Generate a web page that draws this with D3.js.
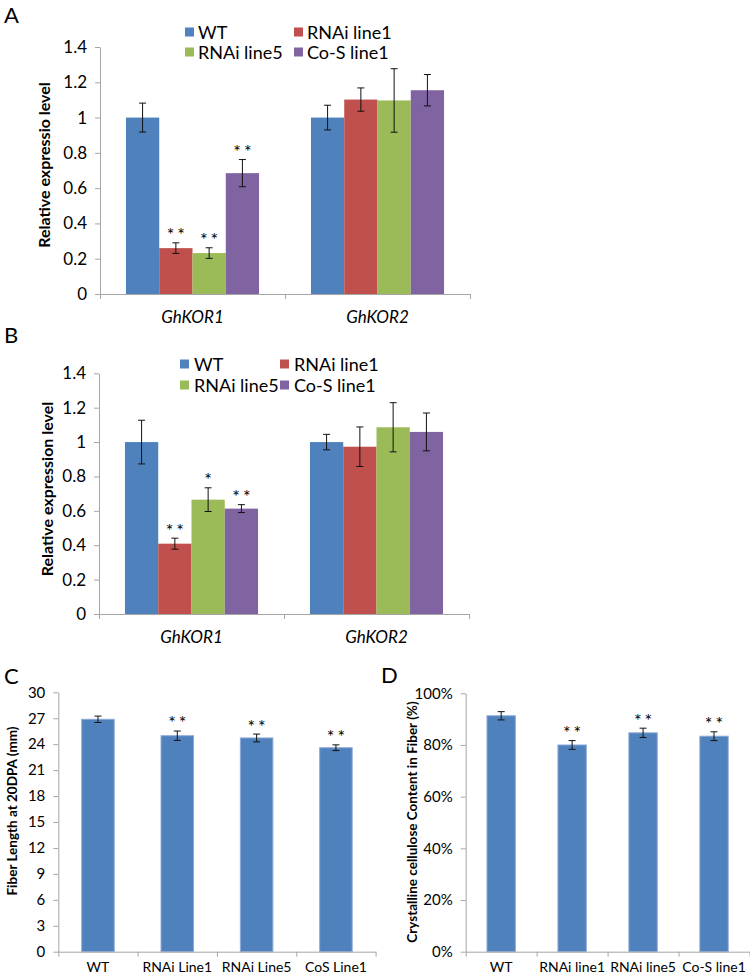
<!DOCTYPE html>
<html><head><meta charset="utf-8">
<script src="https://cdn.jsdelivr.net/npm/d3@7"></script>
<style>
html,body{margin:0;padding:0;background:#fff;}
svg{display:block;}
text{font-family:Lato,"Open Sans",sans-serif;fill:#000;}
</style></head>
<body>
<svg id="chart" width="750" height="978"></svg>
<script>
// ---------- DATA ----------
const groups = ["GhKOR1", "GhKOR2"];
const seriesNames = ["WT", "RNAi line1", "RNAi line5", "Co-S line1"];
const seriesColors = ["#4F81BD", "#C0504D", "#9BBB59", "#8064A2"];

const aValues = [[1.00, 0.26, 0.232, 0.685], [1.00, 1.102, 1.097, 1.155]];
const aErrors = [[0.082, 0.030, 0.030, 0.077], [0.070, 0.066, 0.180, 0.089]];
const aStars  = [["", "**", "**", "**"], ["", "", "", ""]];

const bValues = [[1.00, 0.409, 0.665, 0.613], [1.00, 0.973, 1.086, 1.059]];
const bErrors = [[0.127, 0.032, 0.069, 0.023], [0.045, 0.115, 0.143, 0.110]];
const bStars  = [["", "**", "*", "**"], ["", "", "", ""]];

const abTicks = [0, 0.2, 0.4, 0.6, 0.8, 1.0, 1.2, 1.4];
const abTickLabels = ["0", "0.2", "0.4", "0.6", "0.8", "1", "1.2", "1.4"];

const cCategories = ["WT", "RNAi Line1", "RNAi Line5", "CoS Line1"];
const cValues = [26.88, 24.98, 24.72, 23.59];
const cErrors = [0.37, 0.54, 0.45, 0.33];
const cStars  = ["", "**", "**", "**"];
const cTicks = [0, 3, 6, 9, 12, 15, 18, 21, 24, 27, 30];
const cTickLabels = ["0", "3", "6", "9", "12", "15", "18", "21", "24", "27", "30"];

const dCategories = ["WT", "RNAi line1", "RNAi line5", "Co-S line1"];
const dValues = [0.913, 0.800, 0.847, 0.834];
const dErrors = [0.016, 0.017, 0.018, 0.017];
const dStars  = ["", "**", "**", "**"];
const dTicks = [0, 0.2, 0.4, 0.6, 0.8, 1.0];
const dTickLabels = ["0%", "20%", "40%", "60%", "80%", "100%"];

// ---------- DRAWING ----------
const svg = d3.select("#chart");
const AXIS = "#a6a6a6";

function styleAxis(g){
  g.selectAll("path.domain").attr("stroke", AXIS);
  g.selectAll(".tick line").attr("stroke", AXIS);
}

function yAxis(y, x0, ticks, labels, fs){
  const g = svg.append("g").attr("transform", `translate(${x0},0)`)
    .call(d3.axisLeft(y).tickValues(ticks).tickFormat((d,i)=>labels[i])
      .tickSize(5).tickSizeOuter(0).tickPadding(8));
  g.selectAll(".tick text").attr("font-size", fs).attr("font-family", "Lato, sans-serif").attr("fill", "#000");
  styleAxis(g);
}

function xAxis(n, x0, x1, yPos){
  const xb = d3.scaleLinear().domain([0, n]).range([x0, x1]);
  const g = svg.append("g").attr("transform", `translate(0,${yPos})`)
    .call(d3.axisBottom(xb).tickValues(d3.range(n + 1)).tickFormat("").tickSize(5).tickSizeOuter(0));
  styleAxis(g);
}

function errBar(g, cx, yTop, yBot, cap){
  g.append("line").attr("x1", cx).attr("x2", cx).attr("y1", yTop).attr("y2", yBot).attr("stroke", "#111").attr("stroke-width", 1);
  g.append("line").attr("x1", cx - cap/2).attr("x2", cx + cap/2).attr("y1", yTop).attr("y2", yTop).attr("stroke", "#111");
  g.append("line").attr("x1", cx - cap/2).attr("x2", cx + cap/2).attr("y1", yBot).attr("y2", yBot).attr("stroke", "#111");
}

function star(g, cx, yTop, s){
  if (!s) return;
  const fs = 18;
  g.append("text").attr("x", cx + 1.5).attr("y", yTop - 12 + fs*0.58).attr("text-anchor", "middle")
    .attr("font-family", "'DejaVu Sans', sans-serif").attr("letter-spacing", "3px")
    .attr("font-size", fs).text(s);
}

function panelLabel(txt, x, y){
  svg.append("text").attr("x", x).attr("y", y).attr("font-size", 22).attr("font-family", "Lato, sans-serif").text(txt);
}

function yTitle(txt, cx, cy, fs){
  svg.append("text").attr("transform", `translate(${cx},${cy}) rotate(-90)`)
    .attr("text-anchor", "middle").attr("dominant-baseline", "central")
    .attr("font-weight", "bold").attr("font-size", fs).text(txt);
}

function groupedPanel(cfg){
  const y = d3.scaleLinear().domain([0, 1.4]).range([cfg.y0, cfg.y1]);
  const x = d3.scaleBand().domain(groups).range([cfg.x0, cfg.x1]).paddingInner(0).paddingOuter(0);
  const xs = d3.scaleBand().domain(seriesNames).range([0, x.bandwidth()]).paddingInner(0).paddingOuter(0.78);
  const g = svg.append("g");
  groups.forEach((grp, gi) => {
    seriesNames.forEach((s, si) => {
      const v = cfg.values[gi][si], e = cfg.errors[gi][si];
      const bx = x(grp) + xs(s);
      const c = seriesColors[si];
      g.append("rect").attr("x", bx).attr("y", y(v)).attr("width", xs.bandwidth()).attr("height", y(0) - y(v))
        .attr("fill", c);
      const cx = bx + xs.bandwidth()/2;
      errBar(g, cx, y(v + e), y(v - e), 7);
      star(g, cx, y(v + e), cfg.stars[gi][si]);
    });
    svg.append("text").attr("x", x(grp) + x.bandwidth()/2).attr("y", cfg.y0 + 29)
      .attr("text-anchor", "middle").attr("font-style", "italic").attr("font-size", 17).text(grp);
  });
  yAxis(y, cfg.x0, abTicks, abTickLabels, 17);
  xAxis(groups.length, cfg.x0, cfg.x1, cfg.y0);
  // legend
  const L = svg.append("g");
  seriesNames.forEach((s, i) => {
    const col = i % 2, row = Math.floor(i / 2);
    const lx = cfg.legX[col], ly = cfg.legY[row];
    L.append("rect").attr("x", lx).attr("y", ly - 4.5).attr("width", 9).attr("height", 9).attr("fill", seriesColors[i]);
    L.append("text").attr("x", lx + cfg.legGap).attr("y", ly).attr("dominant-baseline", "central")
      .attr("font-size", 18).text(s);
  });
  yTitle(cfg.title, cfg.titleX, cfg.titleY, 16);
}

function simplePanel(cfg){
  const y = d3.scaleLinear().domain([0, cfg.max]).range([cfg.y0, cfg.y1]);
  const x = d3.scaleBand().domain(cfg.cats).range([cfg.x0, cfg.x1]).padding(0);
  const bw = x.bandwidth() * cfg.barFrac;
  const g = svg.append("g");
  cfg.cats.forEach((c, i) => {
    const cx = x(c) + x.bandwidth()/2;
    const v = cfg.values[i], e = cfg.errors[i];
    g.append("rect").attr("x", cx - bw/2).attr("y", y(v)).attr("width", bw).attr("height", y(0) - y(v))
      .attr("fill", "#4F81BD").attr("stroke", "#8eaad6").attr("stroke-width", 1);
    errBar(g, cx, y(v + e), y(v - e), 7);
    star(g, cx, y(v + e), cfg.stars[i]);
    svg.append("text").attr("x", cx).attr("y", cfg.y0 + 20.5).attr("text-anchor", "middle")
      .attr("font-size", 14).text(c);
  });
  yAxis(y, cfg.x0, cfg.ticks, cfg.tickLabels, 15);
  xAxis(cfg.cats.length, cfg.x0, cfg.x1, cfg.y0);
  yTitle(cfg.title, cfg.titleX, cfg.titleY, 13.5);
}

panelLabel("A", 4, 23);
groupedPanel({x0: 100, x1: 470, y0: 294, y1: 47, values: aValues, errors: aErrors, stars: aStars,
  legX: [185, 294], legY: [32, 52], legGap: 13, title: "Relative expressio level", titleX: 43, titleY: 165});

panelLabel("B", 4, 343);
groupedPanel({x0: 99, x1: 469, y0: 614, y1: 373.3, values: bValues, errors: bErrors, stars: bStars,
  legX: [180, 280], legY: [364, 385], legGap: 14, title: "Relative expression level", titleX: 46, titleY: 489});

panelLabel("C", 4, 684);
simplePanel({cats: cCategories, values: cValues, errors: cErrors, stars: cStars, max: 30,
  ticks: cTicks, tickLabels: cTickLabels, x0: 58.3, x1: 375.6, y0: 951.7, y1: 692.3, barFrac: 0.41,
  title: "Fiber Length at 20DPA (mm)", titleX: 12, titleY: 811});

panelLabel("D", 381, 683);
simplePanel({cats: dCategories, values: dValues, errors: dErrors, stars: dStars, max: 1,
  ticks: dTicks, tickLabels: dTickLabels, x0: 465.7, x1: 749.5, y0: 951.7, y1: 693.3, barFrac: 0.40,
  title: "Crystalline cellulose Content in Fiber (%)", titleX: 412, titleY: 822});
</script>
</body></html>
